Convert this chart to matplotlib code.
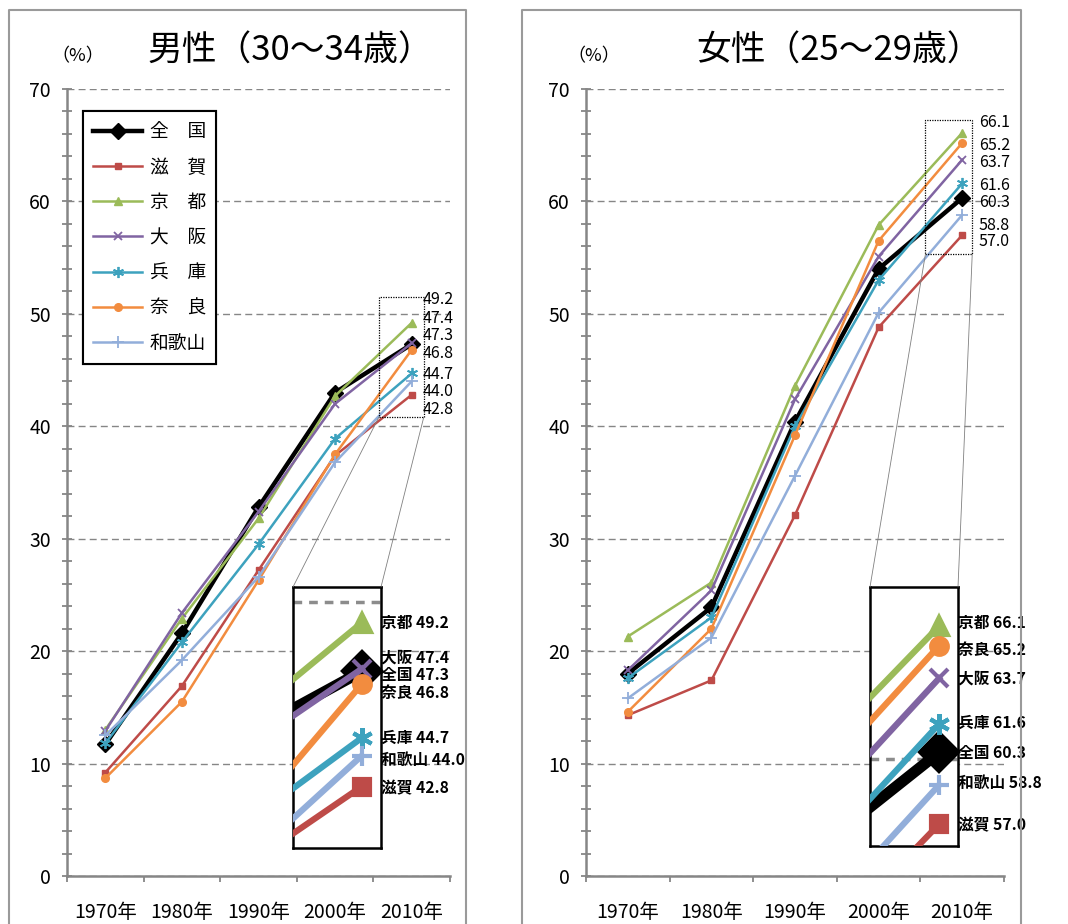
import numpy as np
import matplotlib
matplotlib.use('Agg')
import matplotlib.pyplot as plt
import matplotlib.transforms as mtransforms
from matplotlib.patches import Rectangle, ConnectionPatch
from matplotlib.lines import Line2D

plt.rcParams['font.family'] = ['Noto Sans CJK JP', 'DejaVu Sans']

# ---- data ----
years = ['1970年', '1980年', '1990年', '2000年', '2010年']
legend_names = ['全　国', '滋　賀', '京　都', '大　阪', '兵　庫', '奈　良', '和歌山']
short_names = ['全国', '滋賀', '京都', '大阪', '兵庫', '奈良', '和歌山']

# 男性 30~34歳
m_zenkoku = [11.7, 21.6, 32.8, 43.0, 47.3]
m_shiga = [9.2, 16.9, 27.2, 37.4, 42.8]
m_kyoto = [13.0, 22.9, 31.8, 42.7, 49.2]
m_osaka = [12.9, 23.4, 32.4, 42.0, 47.4]
m_hyogo = [11.8, 20.8, 29.5, 38.9, 44.7]
m_nara = [8.7, 15.5, 26.3, 37.5, 46.8]
m_wakayama = [12.5, 19.2, 26.6, 36.8, 44.0]

# 女性 25~29歳
f_zenkoku = [18.0, 23.9, 40.4, 54.0, 60.3]
f_shiga = [14.3, 17.4, 32.1, 48.8, 57.0]
f_kyoto = [21.3, 26.1, 43.6, 57.9, 66.1]
f_osaka = [18.3, 25.4, 42.4, 55.1, 63.7]
f_hyogo = [17.6, 23.0, 40.0, 53.0, 61.6]
f_nara = [14.6, 22.0, 39.2, 56.5, 65.2]
f_wakayama = [15.8, 21.2, 35.6, 50.1, 58.8]

male = [m_zenkoku, m_shiga, m_kyoto, m_osaka, m_hyogo, m_nara, m_wakayama]
female = [f_zenkoku, f_shiga, f_kyoto, f_osaka, f_hyogo, f_nara, f_wakayama]

# ---- styles ----
colors = ['black', '#BE4B48', '#9BBB59', '#8064A2', '#3DA2BE', '#F28C3F', '#92AEDA']
markers = ['D', 's', '^', 'x', (6, 2, 0), 'o', '+']
msizes = [8, 5, 6, 6, 8, 5.5, 8]
lwidths = [3.2, 1.8, 1.8, 1.8, 1.8, 1.8, 1.8]
in_msizes = [19, 12, 13, 13, 15, 12, 15]
in_lwidths = [8, 4.5, 4.5, 4.5, 4.5, 4.5, 4.5]
grey = '#868686'

W, H = 1068, 924


def fx(px):
    return px / W


def fy(py):
    return 1 - py / H


fig = plt.figure(figsize=(W / 100, H / 100), dpi=100)


def draw_panel(vals, title, frame_px, ax_px, in_px, title_xy, pct_xy,
               box, in_xlim, in_ylim, in_grid, lab_x, lab_y, in_lab_y):
    # outer frame of the panel
    fl, fr, ft = frame_px
    fig.add_artist(Line2D([fx(fl), fx(fl), fx(fr), fx(fr)],
                          [fy(H + 20), fy(ft), fy(ft), fy(H + 20)],
                          transform=fig.transFigure, color='#9a9a9a', lw=1.5))

    l, r, t, b = ax_px
    ax = fig.add_axes([fx(l), fy(b), (r - l) / W, (b - t) / H])
    x = np.arange(len(years))
    lines = []
    for i, v in enumerate(vals):
        ln, = ax.plot(x, v, color=colors[i], lw=lwidths[i], marker=markers[i],
                      ms=msizes[i], mew=1.3 if i in (3, 4, 6) else 1,
                      mec=colors[i], mfc=colors[i], zorder=3 + i * 0.01)
        lines.append(ln)

    ax.set_xlim(-0.5, 4.5)
    ax.set_ylim(0, 70)
    ax.set_yticks(np.arange(0, 71, 10))
    ax.set_yticks(np.arange(0, 71, 2), minor=True)
    ax.set_xticks(x)
    ax.set_xticklabels(years)
    ax.set_xticks(np.arange(-0.5, 5, 1), minor=True)
    ax.grid(axis='y', which='major', color=grey, ls=(0, (5, 3)), lw=1)
    ax.set_axisbelow(True)
    ax.tick_params(axis='x', which='major', length=0, pad=19, labelsize=14)
    ax.tick_params(axis='x', which='minor', length=4.5, direction='out',
                   color=grey, width=1.3)
    ax.tick_params(axis='y', which='both', direction='inout', length=7,
                   color=grey, width=1.3, labelsize=14, pad=8)
    for s in ['top', 'right']:
        ax.spines[s].set_visible(False)
    for s in ['left', 'bottom']:
        ax.spines[s].set_color(grey)
        ax.spines[s].set_linewidth(1.8)

    leg = ax.legend(lines, legend_names, loc='upper left',
                    bbox_to_anchor=((83 - l) / (r - l), (b - 111) / (b - t)),
                    borderaxespad=0, fancybox=False, edgecolor='black',
                    fontsize=13.5, labelspacing=0.76, handlelength=2.6,
                    handletextpad=0.4, borderpad=0.55, framealpha=1)
    leg.get_frame().set_linewidth(1.5)

    # dotted box around 2010 values and their labels
    bx0, bx1, by0, by1 = box
    ax.add_patch(Rectangle((bx0, by0), bx1 - bx0, by1 - by0, fill=False,
                           ls=(0, (1, 1)), lw=0.9, color='black', zorder=6))
    for i, v in enumerate(vals):
        ax.text(lab_x, lab_y[i], f'{v[-1]:.1f}', fontsize=11.5, ha='left',
                va='center', zorder=7)

    # enlarged view
    il, ir, it, ib = in_px
    axin = fig.add_axes([fx(il), fy(ib), (ir - il) / W, (ib - it) / H])
    axin.set_xlim(*in_xlim)
    axin.set_ylim(*in_ylim)
    axin.set_xticks([])
    axin.set_yticks([])
    for s in axin.spines.values():
        s.set_color('black')
        s.set_linewidth(1.8)
    axin.axhline(in_grid, color='#8c8c8c', lw=2.5, dashes=(2.5, 2), zorder=1)
    for i, v in enumerate(vals):
        axin.plot(x, v, color=colors[i], lw=in_lwidths[i], zorder=3 + i * 0.01)
        axin.plot(x[-1], v[-1], ls='none', marker=markers[i], ms=in_msizes[i],
                  mew=3, mec=colors[i], mfc=colors[i], clip_on=False,
                  zorder=3 + i * 0.01)
    trans = mtransforms.blended_transform_factory(axin.transAxes, axin.transData)
    for i, v in enumerate(vals):
        axin.text(1.0, in_lab_y[i], f'{short_names[i]} {v[-1]:.1f}',
                  transform=trans, fontsize=11.3, fontweight='bold',
                  ha='left', va='center', zorder=8)

    for bxa, xb in [(bx0, 0), (bx1, 1)]:
        con = ConnectionPatch(xyA=(bxa, by0), coordsA=ax.transData,
                              xyB=(xb, 1), coordsB=axin.transAxes,
                              color='#808080', lw=0.6)
        fig.add_artist(con)

    fig.text(fx(title_xy[0]), fy(title_xy[1]), title, fontsize=25,
             ha='center', va='center')
    fig.text(fx(pct_xy[0]), fy(pct_xy[1]), '（%）', fontsize=13,
             ha='center', va='center')


draw_panel(male, '男性（30～34歳）', (9, 466, 10), (67, 450, 89, 876),
           (293, 381, 587, 848), (290, 51), (78, 56),
           (3.57, 4.157, 40.8, 51.5), (3.66, 4.096), (40.4, 50.6), 50,
           4.14,
           [48.1, 41.5, 51.3, 49.6, 44.6, 46.5, 43.1],
           [47.15, 42.75, 49.2, 47.85, 44.7, 46.45, 43.85])

draw_panel(female, '女性（25～29歳）', (522, 1021, 10), (586, 1004, 89, 876),
           (870, 958, 587, 846), (839, 51), (594, 56),
           (3.56, 4.12, 55.3, 67.2), (3.60, 4.11), (56.0, 67.9), 60,
           4.20,
           [59.9, 56.4, 67.0, 63.5, 61.4, 65.0, 57.9],
           [60.29, 56.97, 66.26, 63.68, 61.67, 65.03, 58.88])

fig.savefig('out.png', dpi=100)
